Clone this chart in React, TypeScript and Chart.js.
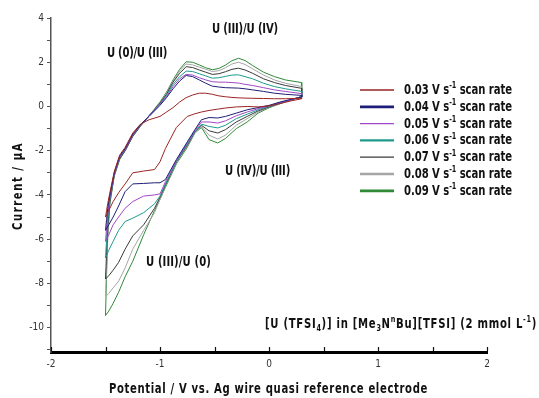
import React, { useEffect, useRef } from 'react';
import { Chart, registerables } from 'chart.js';

Chart.register(...registerables);

// ---------- data ----------
const scanRates = ['0.03', '0.04', '0.05', '0.06', '0.07', '0.08', '0.09'];
const lineColors = ['#9a2424', '#1e1e78', '#a048c8', '#1f9a8c', '#3a3a3a', '#a6a6a6', '#2f8a36'];
const legendLineWidths = [1.6, 2.8, 1.2, 2.4, 1.2, 2.4, 2.8];

// potential (V) for the cathodic sweep (0.3 V -> -1.5 V)
const cathodicPotential = [0.3, 0.2, 0.1, 0.0, -0.1, -0.2, -0.3, -0.4, -0.47, -0.55, -0.62, -0.68, -0.75, -0.85, -0.95, -1.0, -1.05, -1.15, -1.25, -1.32, -1.38, -1.43, -1.47, -1.5];
// potential (V) for the anodic sweep (-1.5 V -> 0.3 V)
const anodicPotential = [-1.5, -1.49, -1.48, -1.46, -1.42, -1.37, -1.32, -1.25, -1.18, -1.1, -1.0, -0.94, -0.88, -0.82, -0.76, -0.7, -0.64, -0.58, -0.52, -0.46, -0.4, -0.34, -0.28, -0.22, -0.15, -0.05, 0.05, 0.15, 0.3];

// current (µA), cathodic sweep
const cathodic003 = [0.35, 0.25, 0.13, 0.03, -0.02, 0.0, -0.02, -0.07, -0.12, -0.18, -0.25, -0.33, -0.45, -0.95, -1.9, -2.5, -2.85, -2.92, -3.0, -3.5, -3.9, -4.3, -4.7, -5.0];
const cathodic004 = [0.42, 0.32, 0.2, 0.05, -0.05, -0.15, -0.3, -0.45, -0.52, -0.5, -0.6, -1.05, -1.6, -2.4, -3.3, -3.45, -3.45, -3.48, -3.5, -3.85, -4.5, -5.0, -5.35, -5.6];
const cathodic005 = [0.42, 0.3, 0.18, 0.02, -0.1, -0.25, -0.42, -0.65, -0.75, -0.7, -0.7, -1.1, -1.65, -2.45, -3.4, -3.95, -4.0, -4.05, -4.3, -4.6, -5.0, -5.35, -5.8, -6.1];
const cathodic006 = [0.45, 0.3, 0.16, 0.0, -0.15, -0.35, -0.55, -0.85, -0.97, -0.9, -0.8, -1.15, -1.7, -2.5, -3.5, -4.05, -4.4, -4.8, -5.05, -5.2, -5.6, -6.1, -6.5, -6.85];
const cathodic007 = [0.45, 0.3, 0.15, -0.02, -0.2, -0.45, -0.7, -1.05, -1.2, -1.1, -0.85, -1.15, -1.75, -2.5, -3.55, -4.1, -4.6, -5.35, -5.85, -6.45, -7.05, -7.4, -7.65, -7.8];
const cathodic008 = [0.45, 0.3, 0.13, -0.04, -0.25, -0.55, -0.85, -1.3, -1.47, -1.3, -0.9, -1.2, -1.8, -2.55, -3.6, -4.2, -4.8, -5.6, -6.45, -7.3, -7.9, -8.2, -8.45, -8.6];
const cathodic009 = [0.45, 0.3, 0.12, -0.06, -0.3, -0.7, -1.0, -1.45, -1.65, -1.5, -0.95, -1.2, -1.85, -2.6, -3.65, -4.2, -4.7, -5.8, -7.0, -7.7, -8.4, -8.9, -9.25, -9.45];

// current (µA), anodic sweep
const anodic003 = [-5.0, -4.7, -4.4, -3.9, -2.95, -2.2, -1.85, -1.2, -0.8, -0.6, -0.45, -0.25, -0.05, 0.2, 0.4, 0.52, 0.6, 0.6, 0.55, 0.48, 0.44, 0.41, 0.39, 0.38, 0.37, 0.36, 0.35, 0.35, 0.37];
const anodic004 = [-5.6, -5.1, -4.6, -4.0, -3.0, -2.25, -1.9, -1.25, -0.82, -0.45, 0.05, 0.4, 0.8, 1.15, 1.4, 1.35, 1.2, 1.05, 0.92, 0.88, 0.85, 0.84, 0.83, 0.8, 0.75, 0.68, 0.6, 0.55, 0.5];
const anodic005 = [-6.1, -5.5, -4.9, -4.1, -3.05, -2.3, -1.95, -1.3, -0.85, -0.42, 0.1, 0.45, 0.9, 1.25, 1.45, 1.42, 1.3, 1.2, 1.12, 1.1, 1.1, 1.08, 1.06, 1.0, 0.95, 0.85, 0.75, 0.68, 0.58];
const anodic006 = [-6.85, -6.0, -5.2, -4.2, -3.05, -2.3, -1.95, -1.3, -0.85, -0.42, 0.12, 0.5, 1.0, 1.35, 1.6, 1.58, 1.48, 1.38, 1.28, 1.3, 1.36, 1.42, 1.43, 1.35, 1.25, 1.05, 0.9, 0.8, 0.68];
const anodic007 = [-7.8, -6.6, -5.5, -4.3, -3.1, -2.35, -2.0, -1.35, -0.88, -0.42, 0.15, 0.55, 1.1, 1.5, 1.8, 1.76, 1.65, 1.55, 1.45, 1.48, 1.57, 1.68, 1.73, 1.65, 1.5, 1.25, 1.08, 0.95, 0.82];
const anodic008 = [-8.6, -7.1, -5.8, -4.35, -3.15, -2.35, -2.0, -1.35, -0.88, -0.42, 0.15, 0.6, 1.15, 1.6, 1.92, 1.88, 1.78, 1.68, 1.58, 1.62, 1.75, 1.92, 2.0, 1.9, 1.7, 1.42, 1.2, 1.05, 0.9];
const anodic009 = [-9.45, -7.6, -6.0, -4.4, -3.15, -2.4, -2.0, -1.35, -0.9, -0.42, 0.2, 0.65, 1.2, 1.68, 2.02, 2.0, 1.88, 1.75, 1.66, 1.72, 1.87, 2.07, 2.18, 2.08, 1.85, 1.55, 1.35, 1.2, 1.08];

const cathodicCurrents = [cathodic003, cathodic004, cathodic005, cathodic006, cathodic007, cathodic008, cathodic009];
const anodicCurrents = [anodic003, anodic004, anodic005, anodic006, anodic007, anodic008, anodic009];

const yTickValues = [-11, -10, -9, -8, -7, -6, -5, -4, -3, -2, -1, 0, 1, 2, 3, 4];
const xTickValues = [-2, -1.5, -1, -0.5, 0, 0.5, 1, 1.5, 2];

// ---------- text helpers ----------
const FONT = '"Liberation Sans Narrow", "Arial Narrow", "DejaVu Sans Condensed", "Liberation Sans", sans-serif';
const GLYPH_SQUEEZE = 0.8;

type Seg = { t: string; k?: 'sup' | 'sub' };

function drawRich(
  ctx: CanvasRenderingContext2D,
  segs: Seg[],
  x: number,
  y: number,
  size: number,
  targetWidth: number,
  align: 'left' | 'center' = 'left',
  color = '#111'
) {
  const fontN = `bold ${size}px ${FONT}`;
  const fontS = `bold ${Math.round(size * 0.66)}px ${FONT}`;
  ctx.save();
  const anyCtx = ctx as any;
  const hasLS = 'letterSpacing' in anyCtx;
  if (hasLS) anyCtx.letterSpacing = '0px';
  const widths = segs.map((s) => {
    ctx.font = s.k ? fontS : fontN;
    return ctx.measureText(s.t).width;
  });
  const nChars = segs.reduce((a, s) => a + s.t.length, 0);
  const natural = widths.reduce((a, b) => a + b, 0);
  let scaleX = hasLS ? GLYPH_SQUEEZE : targetWidth / natural;
  const sp = hasLS ? (targetWidth / scaleX - natural) / Math.max(1, nChars) : 0;
  const total = (natural + sp * nChars) * scaleX;
  const startX = align === 'left' ? x : x - total / 2;
  ctx.translate(startX, y);
  ctx.scale(scaleX, 1);
  ctx.fillStyle = color;
  ctx.textBaseline = 'alphabetic';
  ctx.textAlign = 'left';
  let cx = 0;
  segs.forEach((s, i) => {
    ctx.font = s.k ? fontS : fontN;
    if (hasLS) anyCtx.letterSpacing = `${sp}px`;
    const dy = s.k === 'sup' ? -size * 0.4 : s.k === 'sub' ? size * 0.22 : 0;
    ctx.fillText(s.t, cx, dy);
    cx += widths[i] + sp * s.t.length;
  });
  ctx.restore();
}

const decorPlugin = {
  id: 'decor',
  afterDraw(chart: any) {
    const ctx: CanvasRenderingContext2D = chart.ctx;
    const xs = chart.scales.x;
    const area = chart.chartArea;

    // x-axis tick marks pointing up into the plot
    ctx.save();
    ctx.strokeStyle = '#111';
    ctx.lineWidth = 1.2;
    xTickValues.forEach((v) => {
      const px = Math.round(xs.getPixelForValue(v)) + 0.5;
      ctx.beginPath();
      ctx.moveTo(px, area.bottom - 1);
      ctx.lineTo(px, area.bottom - 5);
      ctx.stroke();
    });
    ctx.restore();

    // annotations
    drawRich(ctx, [{ t: 'U (III)/U (IV)' }], 212, 33, 14, 66);
    drawRich(ctx, [{ t: 'U (0)/U (III)' }], 107, 57, 14, 60);
    drawRich(ctx, [{ t: 'U (IV)/U (III)' }], 225, 175, 14, 65);
    drawRich(ctx, [{ t: 'U (III)/U (0)' }], 146, 266, 14, 65);
    drawRich(
      ctx,
      [
        { t: '[U (TFSI' },
        { t: '4', k: 'sub' },
        { t: ')] in [Me' },
        { t: '3', k: 'sub' },
        { t: 'N' },
        { t: 'n', k: 'sup' },
        { t: 'Bu][TFSI] (2 mmol L' },
        { t: '-1', k: 'sup' },
        { t: ')' },
      ],
      265,
      328,
      14,
      272
    );

    // legend
    const ds = chart.data.datasets;
    ds.forEach((d: any, i: number) => {
      const cy = 89 + i * 16.8;
      ctx.save();
      ctx.strokeStyle = d.borderColor;
      ctx.lineWidth = legendLineWidths[i];
      ctx.beginPath();
      ctx.moveTo(360, cy + 1);
      ctx.lineTo(394, cy + 1);
      ctx.stroke();
      ctx.restore();
      drawRich(ctx, [{ t: `${scanRates[i]} V s` }, { t: '-1', k: 'sup' }, { t: ' scan rate' }], 404, cy + 5, 14, 108);
    });

    // axis titles
    drawRich(ctx, [{ t: 'Potential / V vs. Ag wire quasi reference electrode' }], 109, 393, 14, 319);
    ctx.save();
    ctx.translate(17, 186);
    ctx.rotate(-Math.PI / 2);
    drawRich(ctx, [{ t: 'Current / µA' }], 0, 5, 14, 88, 'center');
    ctx.restore();
  },
};

export default function App() {
  const ref = useRef<HTMLCanvasElement | null>(null);

  useEffect(() => {
    if (!ref.current) return;
    const datasets = scanRates.map((r, i) => {
      const pts = [
        ...anodicPotential.map((p, j) => ({ x: p, y: anodicCurrents[i][j] })),
        ...cathodicPotential.map((p, j) => ({ x: p, y: cathodicCurrents[i][j] })),
      ];
      return {
        label: `${r} V s-1 scan rate`,
        data: pts,
        showLine: true,
        borderColor: lineColors[i],
        backgroundColor: lineColors[i],
        borderWidth: 1,
        pointRadius: 0,
        tension: 0,
        fill: false,
      };
    });

    const chart = new Chart(ref.current, {
      type: 'scatter',
      data: { datasets },
      options: {
        animation: false,
        responsive: false,
        devicePixelRatio: 1,
        layout: { padding: { left: 0, right: 52, top: 18, bottom: 0 } },
        plugins: { legend: { display: false }, tooltip: { enabled: false } },
        scales: {
          x: {
            type: 'linear',
            min: -2,
            max: 2,
            afterFit: (s: any) => {
              s.height = 46;
            },
            afterBuildTicks: (s: any) => {
              s.ticks = xTickValues.map((v) => ({ value: v }));
            },
            grid: { display: true, drawOnChartArea: false, drawTicks: false },
            border: { display: true, color: '#000', width: 3 },
            ticks: {
              padding: 6,
              color: '#333',
              font: { family: FONT, size: 10 },
              maxRotation: 0,
              autoSkip: false,
              callback: (v: any) => (Number.isInteger(Number(v)) ? String(v) : ''),
            },
          },
          y: {
            type: 'linear',
            min: -11.1,
            max: 4,
            afterFit: (s: any) => {
              s.width = 51;
            },
            afterBuildTicks: (s: any) => {
              s.ticks = yTickValues.map((v) => ({ value: v }));
            },
            grid: { display: true, drawOnChartArea: false, drawTicks: true, tickLength: 4, tickColor: '#555', lineWidth: 1 },
            border: { display: true, color: '#555', width: 1.5 },
            ticks: {
              padding: 3,
              color: '#333',
              font: { family: FONT, size: 10 },
              autoSkip: false,
              callback: (v: any) => (Number(v) % 2 === 0 ? String(v) : ''),
            },
          },
        },
      },
      plugins: [decorPlugin],
    } as any);

    return () => chart.destroy();
  }, []);

  return (
    <div style={{ position: 'fixed', left: 0, top: 0, width: 539, height: 398, background: '#fff' }}>
      <canvas ref={ref} width={539} height={398} style={{ width: 539, height: 398, display: 'block' }} />
    </div>
  );
}
